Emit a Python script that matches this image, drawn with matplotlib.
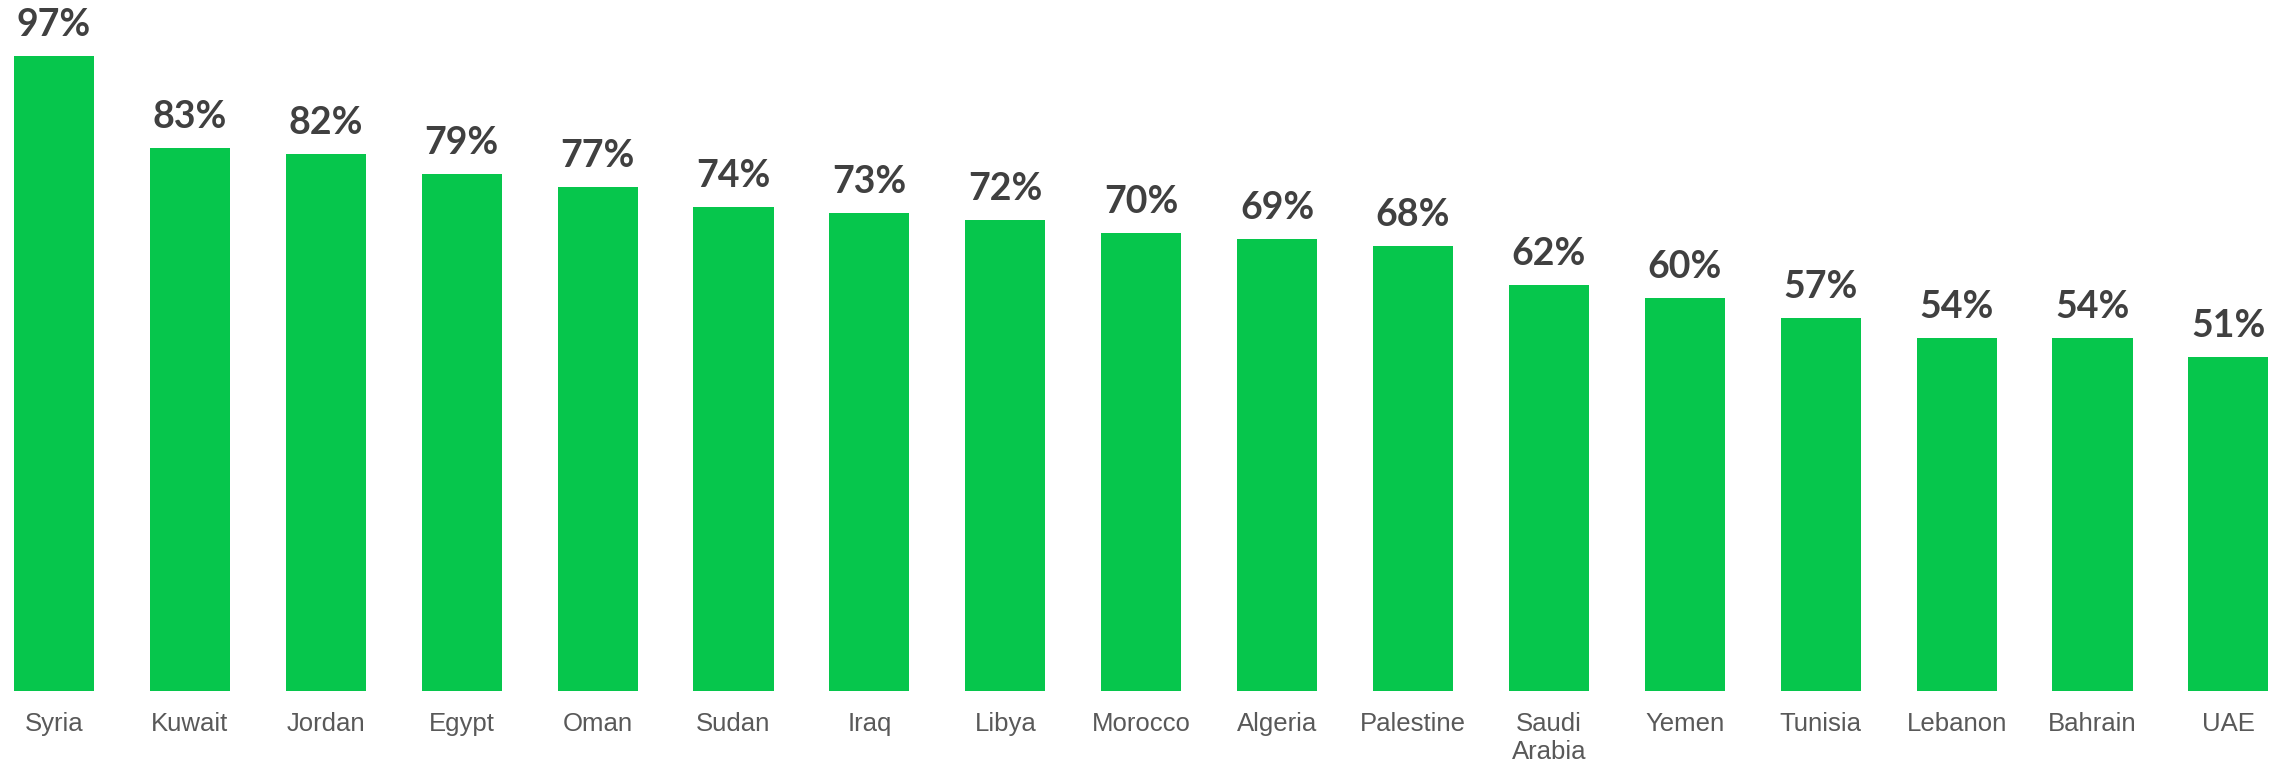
import matplotlib
matplotlib.use("Agg")
import matplotlib.pyplot as plt

countries = ["Syria", "Kuwait", "Jordan", "Egypt", "Oman", "Sudan", "Iraq", "Libya",
             "Morocco", "Algeria", "Palestine", "Saudi\nArabia", "Yemen", "Tunisia",
             "Lebanon", "Bahrain", "UAE"]
values = [97, 83, 82, 79, 77, 74, 73, 72, 70, 69, 68, 62, 60, 57, 54, 54, 51]

W, H = 2275, 764
fig = plt.figure(figsize=(W / 100, H / 100), dpi=100)
bottom_px = 691
ax = fig.add_axes([0, (H - bottom_px) / H, 1, bottom_px / H])

x = list(range(len(countries)))
bars = ax.bar(x, values, width=0.59, color="#06C64C")

step = 135.9
ax.set_xlim(-54 / step, (W - 54) / step)
ax.set_ylim(0, bottom_px / 6.546)

for xi, v in zip(x, values):
    ax.annotate(f"{v}%", (xi, v), xytext=(0, 10), textcoords="offset points",
                ha="center", va="bottom", fontsize=27, fontweight="bold",
                family="Lato", color="#404040")

ax.set_xticks(x)
ax.set_xticklabels(countries, fontsize=18.5, color="#595959", family="Liberation Sans",
                   va="top")
ax.tick_params(axis="x", length=0, pad=15)
ax.set_yticks([])
for s in ax.spines.values():
    s.set_visible(False)

fig.savefig("out.png", dpi=100)
